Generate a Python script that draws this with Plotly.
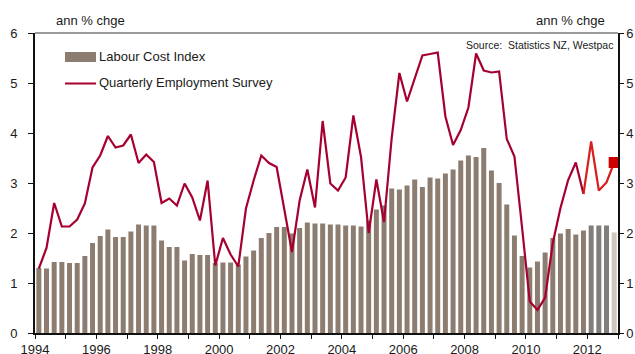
import plotly.graph_objects as go

# ---- data (annual % change, quarterly 1994Q1 - 2012Q4) ----
years = list(range(1994, 2013))
quarters = [1, 2, 3, 4]

lci = [
    1.30, 1.29, 1.42, 1.42,
    1.40, 1.40, 1.54, 1.80,
    1.94, 2.07, 1.92, 1.92,
    2.03, 2.17, 2.15, 2.15,
    1.85, 1.72, 1.72, 1.45,
    1.58, 1.56, 1.56, 1.40,
    1.41, 1.41, 1.37, 1.53,
    1.65, 1.90, 2.00, 2.12,
    2.12, 1.99, 2.10, 2.21,
    2.19, 2.19, 2.17, 2.17,
    2.15, 2.15, 2.13, 2.25,
    2.47, 2.55, 2.89, 2.87,
    2.95, 3.07, 2.92, 3.11,
    3.09, 3.19, 3.27, 3.45,
    3.55, 3.52, 3.70, 3.25,
    3.00, 2.57, 1.95, 1.54,
    1.31, 1.43, 1.61, 1.90,
    1.99, 2.08, 1.97, 2.05,
    2.15, 2.15, 2.15, 2.01,
]

qes = [
    1.29, 1.70, 2.60, 2.13,
    2.13, 2.27, 2.59, 3.31,
    3.55, 3.94, 3.71, 3.75,
    3.97, 3.40, 3.57, 3.42,
    2.60, 2.69, 2.55, 2.99,
    2.71, 2.25, 3.05, 1.35,
    1.90, 1.57, 1.33, 2.49,
    3.05, 3.55, 3.40, 3.32,
    2.47, 1.62, 2.65, 3.27,
    2.51, 4.24, 2.99, 2.85,
    3.11, 4.35, 3.52, 2.00,
    3.07, 2.22, 3.90, 5.20,
    4.63, 5.09, 5.55, 5.58,
    5.61, 4.33, 3.76, 4.06,
    4.51, 5.59, 5.25, 5.21,
    5.23, 3.88, 3.53, 2.10,
    0.63, 0.46, 0.71, 1.80,
    2.50, 3.06, 3.41, 2.78,
    3.83, 2.85, 3.01, 3.41,
]

tick_years = list(range(1994, 2014))
tick_labels = [str(y) if y % 2 == 0 else "" for y in tick_years]
y_ticks = [0, 1, 2, 3, 4, 5, 6]

# x position: middle of each quarter in decimal years
x = [y + (q - 0.5) / 4 for y in years for q in quarters]

BROWN = "#8c7d70"
GREY = "#807d7b"
LIGHT = "#cfc6bd"
CRIMSON = "#a5002f"
BRIGHT = "#d81e1e"
FONT = "Liberation Sans, Arial, sans-serif"
TXT = "#1a1a1a"

n = len(lci)
bar_colors = [BROWN] * (n - 4) + [GREY] * 3 + [LIGHT]

fig = go.Figure()
fig.add_trace(go.Bar(x=x, y=lci, marker=dict(color=bar_colors, line=dict(width=0)),
                     name="Labour Cost Index", showlegend=False))
k = n - 5  # bright segment from 2011Q4
fig.add_trace(go.Scatter(x=x[:k + 1], y=qes[:k + 1], mode="lines",
                         line=dict(color=CRIMSON, width=2.2),
                         name="Quarterly Employment Survey", showlegend=False))
fig.add_trace(go.Scatter(x=x[k:], y=qes[k:], mode="lines",
                         line=dict(color=BRIGHT, width=2.2), showlegend=False))
fig.add_trace(go.Scatter(x=[x[-1]], y=[qes[-1]], mode="markers",
                         marker=dict(symbol="square", size=11, color="#cc0000"),
                         showlegend=False))
# invisible trace for right axis
fig.add_trace(go.Scatter(x=[x[0]], y=[0], yaxis="y2", mode="markers",
                         marker=dict(opacity=0), showlegend=False, hoverinfo="skip"))

L, R, T, B = 35, 17, 33, 21
W, H = 635, 354
pw, ph = W - L - R, H - T - B


def px(v):
    return (v - L) / pw


def py(v):
    return (H - B - v) / ph


fig.update_layout(
    width=W, height=H,
    margin=dict(l=L, r=R, t=T, b=B, pad=0, autoexpand=False),
    paper_bgcolor="white", plot_bgcolor="white",
    bargap=0.35,
    font=dict(family=FONT, size=13, color=TXT),
    xaxis=dict(range=[1994, 2013], tickvals=tick_years, ticktext=tick_labels,
               showgrid=False, zeroline=False, showline=True, linecolor="#111",
               linewidth=1.5, ticks="outside", ticklen=4, tickcolor="#111",
               tickfont=dict(size=13, color=TXT), ticklabelstandoff=0,
               automargin=False),
    yaxis=dict(range=[0, 6], tickvals=y_ticks, showgrid=False, zeroline=False,
               showline=True, linecolor="#111", linewidth=2, ticks="outside",
               ticklen=5, tickcolor="#111", tickfont=dict(size=13, color=TXT),
               ticklabelstandoff=8, automargin=False),
    yaxis2=dict(range=[0, 6], tickvals=y_ticks, overlaying="y", side="right",
                showgrid=False, zeroline=False, showline=True, linecolor="#111",
                linewidth=1.5, ticks="outside", ticklen=4, tickcolor="#111",
                tickfont=dict(size=13, color=TXT), automargin=False),
    showlegend=False,
)

shapes = [
    dict(type="line", xref="paper", yref="paper", x0=0, x1=1, y0=1, y1=1,
         line=dict(color="#7a7a7a", width=1.5)),
    dict(type="rect", xref="paper", yref="paper", x0=px(65), x1=px(96),
         y0=py(62), y1=py(52), fillcolor=BROWN, line=dict(width=0)),
    dict(type="line", xref="paper", yref="paper", x0=px(65), x1=px(96),
         y0=py(83.5), y1=py(83.5), line=dict(color=CRIMSON, width=2)),
]
fig.update_layout(shapes=shapes)

ann = [
    dict(text="ann % chge", x=px(54), y=py(20), xanchor="left", yanchor="middle"),
    dict(text="ann % chge", x=px(607), y=py(20), xanchor="right", yanchor="middle"),
    dict(text="Source:  Statistics NZ, Westpac", x=px(615), y=py(45),
         xanchor="right", yanchor="middle", font=dict(size=10.5, color=TXT)),
    dict(text="Labour Cost Index", x=px(97), y=py(57), xanchor="left", yanchor="middle"),
    dict(text="Quarterly Employment Survey", x=px(97), y=py(83), xanchor="left",
         yanchor="middle"),
]
for a in ann:
    a.update(xref="paper", yref="paper", showarrow=False)
    a.setdefault("font", dict(size=13, color=TXT))
fig.update_layout(annotations=ann)

fig.write_html("out.html")
